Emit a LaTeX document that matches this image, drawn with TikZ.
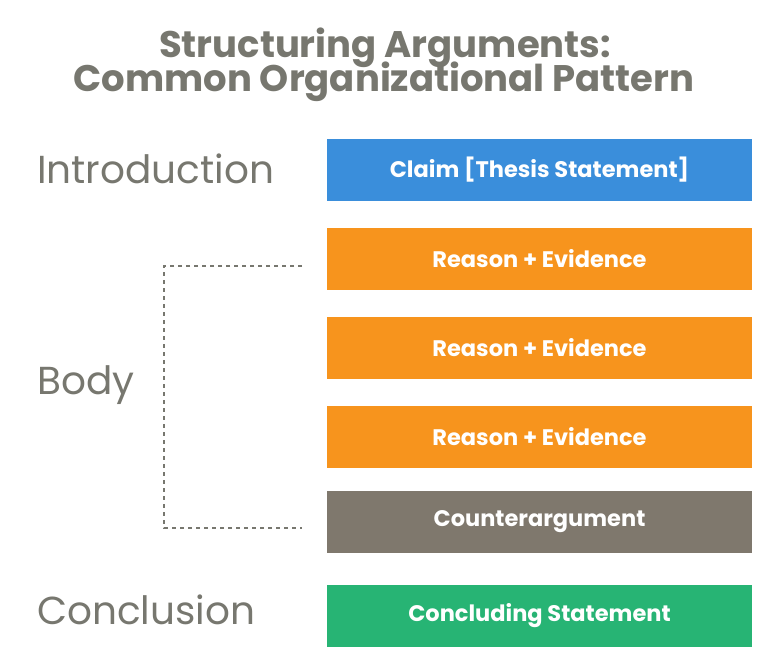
\documentclass[tikz,border=0pt]{standalone}
\usepackage{fontspec}
\setmainfont{Poppins}
\definecolor{claimblue}{HTML}{3A8EDB}
\definecolor{reasonorange}{HTML}{F7941D}
\definecolor{countergray}{HTML}{7F786D}
\definecolor{concgreen}{HTML}{27B474}
\definecolor{labelgray}{HTML}{77776F}
\tikzset{
  part/.style = {
    minimum width=425pt, minimum height=62pt, inner sep=0pt,
    text=white, font=\fontsize{22.5}{26}\selectfont\bfseries
  },
  section/.style = {
    anchor=base west, inner sep=0pt, text=labelgray,
    font=\fontsize{39}{44}\selectfont
  },
  heading/.style = {
    anchor=base, inner sep=0pt, text=labelgray,
    font=\fontsize{37}{42}\selectfont\bfseries
  }
}

\begin{document}
\begin{tikzpicture}[x=1pt,y=-1pt]
  \useasboundingbox (0,0) rectangle (765,657);
  %
  \node[heading] (titleA) at (385,57) {Structuring Arguments:};
  \node[heading] (titleB) at (384,91) {Common Organizational Pattern};
  %
  \node[part, fill=claimblue]    (claim)  at (539.5,169.5) {Claim [Thesis Statement]};
  \node[part, fill=reasonorange] (reasA)  at (539.5,258.5) {Reason + Evidence};
  \node[part, fill=reasonorange] (reasB)  at (539.5,348)   {Reason + Evidence};
  \node[part, fill=reasonorange] (reasC)  at (539.5,437)   {Reason + Evidence};
  \node[part, fill=countergray]  (counter) at (539.5,522)  {Counterargument};
  \node[part, fill=concgreen]    (concl)  at (539.5,616)   {Concluding Statement};
  %
  \node[section] (intro) at (37,183) {Introduction};
  \node[section] (body)  at (37,394) {Body};
  \node[section] (conc)  at (37,624) {Conclusion};
  %
  \coordinate (bracetop) at (302,266);
  \coordinate (bracebot) at (302,528);
  \draw[labelgray, line width=1.2pt, dash pattern=on 4pt off 4pt]
    (bracetop) -- (164,266) -- (164,528) -- (bracebot);
\end{tikzpicture}
\end{document}
